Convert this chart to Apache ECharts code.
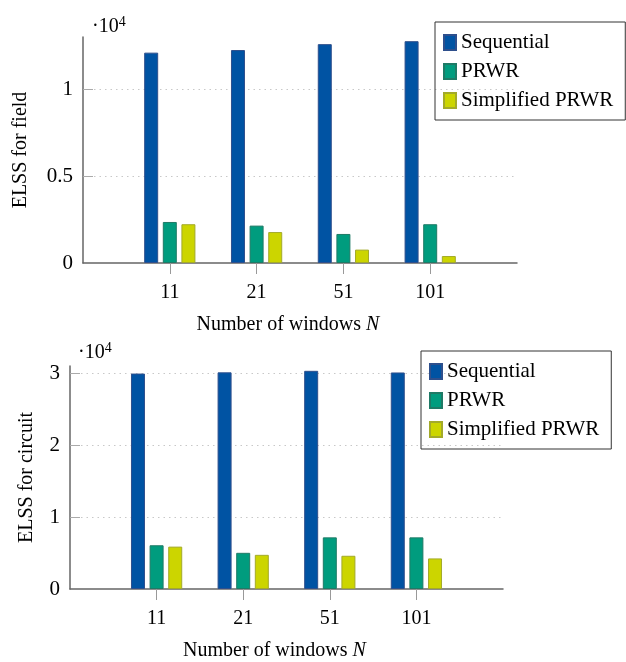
<!DOCTYPE html>
<html>
<head>
<meta charset="utf-8">
<script src="https://cdn.jsdelivr.net/npm/echarts@6/dist/echarts.min.js"></script>
<style>
html, body { margin: 0; padding: 0; background: #fff; }
#chart { width: 626px; height: 662px; }
</style>
</head>
<body>
<div id="chart"></div>
<script>
// ---- data ----
const categories = ['11', '21', '51', '101'];
const seriesNames = ['Sequential', 'PRWR', 'Simplified PRWR'];

const fieldSequential = [12100, 12250, 12590, 12760];
const fieldPRWR = [2360, 2150, 1670, 2230];
const fieldSimplified = [2230, 1780, 770, 400];

const circuitSequential = [29950, 30120, 30330, 30100];
const circuitPRWR = [6080, 5030, 7180, 7180];
const circuitSimplified = [5890, 4750, 4620, 4250];

const fieldYTicks = [0, 5000, 10000];
const circuitYTicks = [0, 10000, 20000, 30000];
const fieldYMax = 13000;
const circuitYMax = 31000;

// ---- styles ----
const FONT = 'Liberation Serif';
const colors = [
  { fill: '#0053A3', border: '#2E4F8C' },
  { fill: '#009C7E', border: '#1F7A66' },
  { fill: '#CCD500', border: '#A3AA2A' }
];

// pad categories so that the axis spans one slot on each side
const axisCats = [''].concat(categories, ['']);
const pad = arr => [null].concat(arr, [null]);

function xAxisDef(gridIndex) {
  return {
    type: 'category',
    gridIndex: gridIndex,
    data: axisCats,
    boundaryGap: false,
    name: 'Number of windows {i|N}',
    nameLocation: 'middle',
    nameGap: 52,
    nameTextStyle: {
      fontFamily: FONT, fontSize: 20, color: '#000', padding: [0, 24, 0, 0],
      rich: { i: { fontFamily: FONT, fontSize: 20, fontStyle: 'italic', color: '#000' } }
    },
    axisLine: { lineStyle: { color: '#666', width: 1.5 } },
    axisTick: { show: true, interval: (i, v) => v !== '', length: 11, lineStyle: { color: '#999', width: 1 } },
    axisLabel: { interval: 0, margin: 20, fontFamily: FONT, fontSize: 20, color: '#000' },
    splitLine: { show: false }
  };
}

function yAxisDef(gridIndex, max, ticks, name, nameGap) {
  return {
    type: 'value',
    gridIndex: gridIndex,
    min: 0,
    max: max,
    name: name,
    nameLocation: 'middle',
    nameGap: nameGap,
    nameTextStyle: { fontFamily: FONT, fontSize: 20, color: '#000' },
    axisLine: { show: true, lineStyle: { color: '#666', width: 1.5 } },
    axisTick: { show: true, inside: true, length: 10, customValues: ticks.slice(1), lineStyle: { color: '#aaa', width: 1 } },
    axisLabel: {
      customValues: ticks,
      margin: 10,
      fontFamily: FONT, fontSize: 21, color: '#000',
      formatter: v => String(v / 10000)
    },
    splitLine: {
      show: true,
      lineStyle: { color: '#c8c8c8', width: 1, type: [1.5, 4] }
    }
  };
}

function barSeries(name, data, idx, axisIndex) {
  return {
    name: name,
    type: 'bar',
    xAxisIndex: axisIndex,
    yAxisIndex: axisIndex,
    data: pad(data),
    barWidth: 14,
    barGap: '33%',
    itemStyle: { color: colors[idx].fill, borderColor: colors[idx].border, borderWidth: 1 },
    emphasis: { disabled: true }
  };
}

function legendDef(left, top) {
  return {
    orient: 'vertical',
    left: left,
    top: top,
    data: seriesNames,
    icon: 'rect',
    itemWidth: 12,
    itemHeight: 15,
    itemGap: 8,
    padding: [10, 12, 9, 8],
    borderColor: '#333',
    borderWidth: 1,
    selectedMode: false,
    textStyle: { fontFamily: FONT, fontSize: 21, color: '#000', lineHeight: 20 }
  };
}

const expTitle = (left, top) => ({
  text: '{a|·10}{b|4}',
  left: left,
  top: top,
  padding: 0,
  textStyle: {
    fontWeight: 'normal',
    rich: {
      a: { fontFamily: FONT, fontSize: 20, fontWeight: 'normal', color: '#000', lineHeight: 24 },
      b: { fontFamily: FONT, fontSize: 14, fontWeight: 'normal', color: '#000', verticalAlign: 'top', lineHeight: 14 }
    }
  }
});

const chart = echarts.init(document.getElementById('chart'), null, { renderer: 'canvas' });
chart.setOption({
  animation: false,
  backgroundColor: '#fff',
  title: [expTitle(92, 15), expTitle(78, 341)],
  legend: [legendDef(435, 22), legendDef(421, 351)],
  grid: [
    { left: 83, top: 37, width: 434, height: 226 },
    { left: 70, top: 366, width: 433, height: 226 }
  ],
  xAxis: [xAxisDef(0), xAxisDef(1)],
  yAxis: [
    yAxisDef(0, fieldYMax, fieldYTicks, 'ELSS for field', 52),
    yAxisDef(1, circuitYMax, circuitYTicks, 'ELSS for circuit', 33)
  ],
  series: [
    barSeries(seriesNames[0], fieldSequential, 0, 0),
    barSeries(seriesNames[1], fieldPRWR, 1, 0),
    barSeries(seriesNames[2], fieldSimplified, 2, 0),
    barSeries(seriesNames[0], circuitSequential, 0, 1),
    barSeries(seriesNames[1], circuitPRWR, 1, 1),
    barSeries(seriesNames[2], circuitSimplified, 2, 1)
  ]
});
</script>
</body>
</html>
